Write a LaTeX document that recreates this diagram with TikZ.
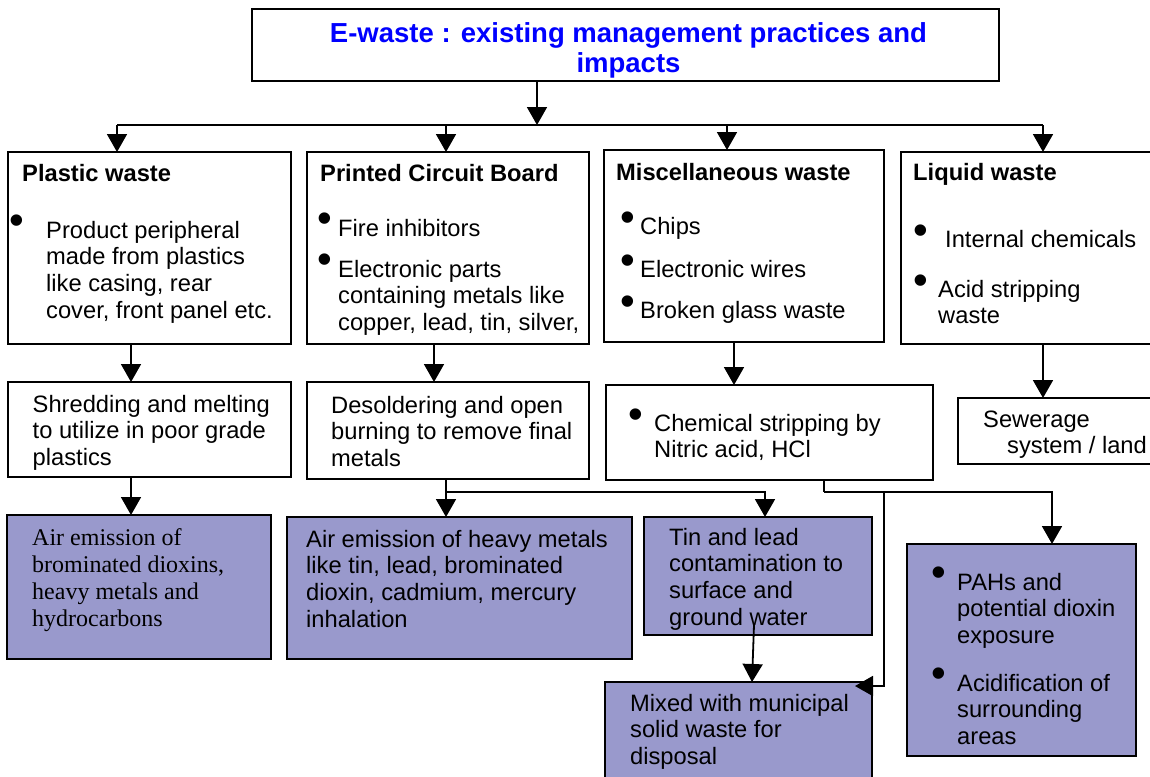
\documentclass[tikz,border=0pt]{standalone}
\usepackage{fontspec}
\setmainfont{Liberation Sans}
\newfontfamily\timesfont{Liberation Serif}
\usetikzlibrary{arrows.meta}
\definecolor{impact}{RGB}{153,153,204}
\definecolor{titleblue}{RGB}{0,0,255}
% multi-line text whose baseline is that of its first line
\newcommand\mlines[1]{\vtop{\halign{##\hfil\cr#1\crcr}}}
\newcommand\clines[1]{\vtop{\halign{\hfil##\hfil\cr#1\crcr}}}

\begin{document}
\begin{tikzpicture}[x=1pt,y=-1pt,
  box/.style={draw=black, line width=1.8pt, rectangle, anchor=north west, inner sep=0pt, outer sep=0pt},
  stage/.style={box, fill=white},
  impactbox/.style={box, fill=impact},
  txt/.style={anchor=base west, inner sep=0pt, font=\fontsize{23.7}{26.8}\selectfont},
  head/.style={anchor=base west, inner sep=0pt, font=\fontsize{23.7}{26.8}\selectfont\bfseries},
  serif/.style={anchor=base west, inner sep=0pt, font=\fontsize{24}{27}\selectfont\timesfont},
  dot/.style={inner sep=0pt, font=\fontsize{42}{42}\selectfont},
  flow/.style={line width=1.8pt, -{Triangle[length=18pt,width=20pt]}},
  link/.style={line width=1.8pt},
]
\useasboundingbox (0,0) rectangle (1150,776);
\clip (0,0) rectangle (1150,776);

% ---------- boxes ----------
\node[stage, minimum width=747pt, minimum height=72pt]  (title)    at (252,9)   {};
\node[stage, minimum width=283pt, minimum height=192pt] (plastic)  at (8,152)   {};
\node[stage, minimum width=282pt, minimum height=192pt] (pcb)      at (307,152) {};
\node[stage, minimum width=280pt, minimum height=192pt] (misc)     at (604,150) {};
\node[stage, minimum width=260pt, minimum height=192pt] (liquid)   at (901,152) {};
\node[stage, minimum width=283pt, minimum height=95pt]  (shred)    at (8,382)   {};
\node[stage, minimum width=282pt, minimum height=97pt]  (desolder) at (307,382) {};
\node[stage, minimum width=327pt, minimum height=95pt]  (chem)     at (606,385) {};
\node[stage, minimum width=202pt, minimum height=66pt]  (sewer)    at (958,398) {};
\node[impactbox, minimum width=264pt, minimum height=144pt] (air1)  at (7,515)   {};
\node[impactbox, minimum width=345pt, minimum height=142pt] (air2)  at (287,517) {};
\node[impactbox, minimum width=228pt, minimum height=118pt] (tin)   at (644,517) {};
\node[impactbox, minimum width=267pt, minimum height=110pt] (mixed) at (605,682) {};
\node[impactbox, minimum width=229pt, minimum height=212pt] (pahs)  at (907,544) {};

% ---------- connector columns and junctions ----------
\coordinate (busT) at (537,125);
\coordinate (busL) at (117,125);
\coordinate (busB) at (446,125);
\coordinate (busC) at (727,125);
\coordinate (busR) at (1043,125);
\coordinate (cA) at (131,0);
\coordinate (cB) at (434,0);
\coordinate (cC) at (446,0);
\coordinate (cD) at (734,0);
\coordinate (cF) at (765,0);
\coordinate (cG) at (824,0);
\coordinate (cI) at (1052,0);
\coordinate (jD) at (446,492);
\coordinate (jC) at (824,492);
\coordinate (jM) at (884,492);
\coordinate (mixin) at (855,686);

% ---------- texts ----------
\node[anchor=base, inner sep=0pt, text=titleblue, font=\fontsize{27.5}{30}\selectfont\bfseries] (titletext) at (628.5,42)
  {\clines{E-waste : existing management practices and\cr impacts}};

\node[head] (plastich) at (22,181) {Plastic waste};
\node[dot] (pd1) at (17,225) {•};
\node[txt] (pt1) at (46,238) {\mlines{Product peripheral\cr made from plastics\cr like casing, rear\cr cover, front panel etc.}};

\node[head] (pcbh) at (320,181) {Printed Circuit Board};
\node[dot] (bd1) at (325,223) {•};
\node[txt] (bt1) at (338,236) {Fire inhibitors};
\node[dot] (bd2) at (325,264) {•};
\node[txt] (bt2) at (338,277) {\mlines{Electronic parts\cr containing metals like\cr copper, lead, tin, silver,}};

\node[head] (misch) at (616,180) {Miscellaneous waste};
\node[dot] (md1) at (628,222) {•};
\node[txt] (mt1) at (640,234) {Chips};
\node[dot] (md2) at (628,265) {•};
\node[txt] (mt2) at (640,277) {Electronic wires};
\node[dot] (md3) at (628,306) {•};
\node[txt] (mt3) at (640,318) {Broken glass waste};

\node[head] (liquidh) at (913,180) {Liquid waste};
\node[dot] (ld1) at (921,235) {•};
\node[txt] (lt1) at (945,247) {Internal chemicals};
\node[dot] (ld2) at (921,285) {•};
\node[txt] (lt2) at (938,297) {\mlines{Acid stripping\cr waste}};

\node[txt] (shredt) at (32.5,412) {\mlines{Shredding and melting\cr to utilize in poor grade\cr plastics}};
\node[txt] (desoldert) at (331,413) {\mlines{Desoldering and open\cr burning to remove final\cr metals}};
\node[dot] (cd1) at (636,419) {•};
\node[txt] (chemt) at (654,431) {\mlines{Chemical stripping by\cr Nitric acid, HCl}};
\node[txt] (sewert) at (983,427) {\mlines{Sewerage\cr \hspace*{24pt}system / land}};

\node[serif] (air1t) at (32,545) {\mlines{Air emission of\cr brominated dioxins,\cr heavy metals and\cr hydrocarbons}};
\node[txt] (air2t) at (306,547) {\mlines{Air emission of heavy metals\cr like tin, lead, brominated\cr dioxin, cadmium, mercury\cr inhalation}};
\node[txt] (tint) at (669,545) {\mlines{Tin and lead\cr contamination to\cr surface and\cr ground water}};
\node[txt] (mixedt) at (630,711) {\mlines{Mixed with municipal\cr solid waste for\cr disposal}};
\node[dot] (ad1) at (939,577) {•};
\node[txt] (at1) at (957,590) {\mlines{PAHs and\cr potential dioxin\cr exposure}};
\node[dot] (ad2) at (939,678) {•};
\node[txt] (at2) at (957,691) {\mlines{Acidification of\cr surrounding\cr areas}};

% ---------- connectors ----------
\draw[flow] (title.south -| busT) -- (busT);
\draw[link] (busL) -- (busR);
\draw[flow] (busL) -- (busL |- plastic.north);
\draw[flow] (busB) -- (busB |- pcb.north);
\draw[flow] (busC) -- (busC |- misc.north);
\draw[flow] (busR) -- (busR |- liquid.north);

\draw[flow] (plastic.south -| cA) -- (shred.north -| cA);
\draw[flow] (pcb.south -| cB) -- (desolder.north -| cB);
\draw[flow] (misc.south -| cD) -- (chem.north -| cD);
\draw[flow] (liquid.south -| busR) -- (sewer.north -| busR);

\draw[flow] (shred.south -| cA) -- (air1.north -| cA);
\draw[flow] (desolder.south -| cC) -- (air2.north -| cC);
\draw[flow] (jD) -| (tin.north -| cF);
\draw[link] (chem.south -| cG) -- (jC);
\draw[flow] (jC) -| (pahs.north -| cI);
\draw[flow] (jM) |- (mixin);
\draw[flow] ([shift={(-4,-10)}]tin.south) -- ([xshift=13.5pt]mixed.north);
\end{tikzpicture}
\end{document}
